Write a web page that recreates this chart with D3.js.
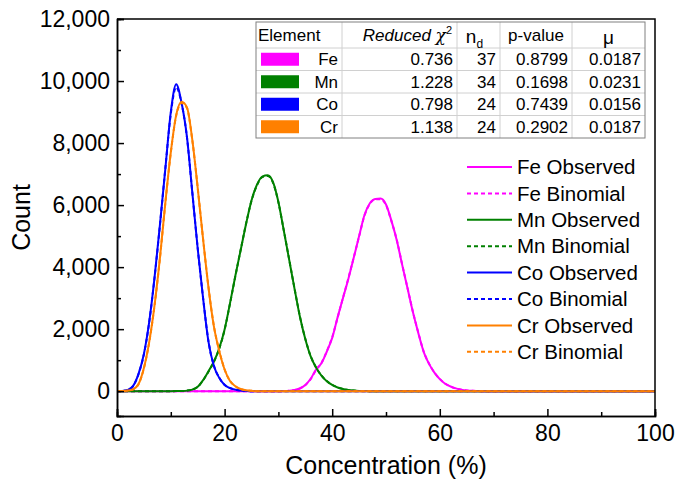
<!DOCTYPE html>
<html>
<head>
<meta charset="utf-8">
<script src="https://cdn.jsdelivr.net/npm/d3@7"></script>
<style>
  body { margin: 0; background: #fff; }
  svg { font-family: "Liberation Sans", Arial, sans-serif; }
</style>
</head>
<body>
<div id="chart"></div>
<script>
// Concentration (%) at integer steps, counts
const feStart = 30;
const feObserved = [0, 5, 15, 40, 87, 200, 400, 700, 900, 1280, 1720, 2380, 3000, 3620, 4300, 5000, 5680, 6060, 6200, 6210, 6020, 5500, 4870, 4080, 3320, 2550, 1880, 1270, 880, 600, 390, 240, 150, 90, 50, 25, 12, 5, 0];
const feBinomial = [0, 4, 14, 38, 90, 195, 390, 680, 910, 1290, 1740, 2370, 3010, 3640, 4310, 4990, 5660, 6040, 6190, 6190, 6000, 5490, 4880, 4090, 3330, 2560, 1890, 1280, 890, 600, 395, 245, 150, 88, 48, 24, 11, 4, 0];

const mnStart = 10;
const mnObserved = [0, 3, 8, 18, 50, 140, 355, 640, 950, 1380, 1990, 2830, 3720, 4560, 5400, 6150, 6650, 6920, 6960, 6740, 6100, 5180, 4240, 3300, 2400, 1680, 1120, 760, 500, 320, 200, 120, 70, 40, 20, 10, 5, 0];
const mnBinomial = [0, 2, 7, 17, 48, 135, 350, 630, 945, 1370, 1980, 2820, 3710, 4570, 5410, 6140, 6630, 6900, 6940, 6720, 6090, 5190, 4250, 3310, 2410, 1690, 1130, 765, 505, 325, 205, 122, 72, 41, 21, 10, 4, 0];

const coStart = 0;
const coObserved = [0, 10, 40, 170, 560, 1200, 2250, 3700, 5400, 7200, 9000, 9900, 9300, 8200, 6400, 4600, 3000, 1600, 820, 430, 200, 100, 50, 20, 8, 0];
const coBinomial = [0, 9, 38, 165, 550, 1190, 2240, 3690, 5390, 7210, 8950, 9800, 9280, 8190, 6410, 4610, 3010, 1610, 830, 435, 205, 102, 50, 20, 7, 0];

const crStart = 0;
const crObserved = [0, 5, 20, 60, 230, 750, 1600, 2800, 4330, 6100, 7700, 8900, 9330, 9150, 8100, 6550, 4900, 3350, 2100, 1300, 700, 330, 160, 70, 30, 12, 0];
const crBinomial = [0, 4, 18, 58, 225, 740, 1590, 2790, 4320, 6090, 7690, 8880, 9290, 9130, 8090, 6560, 4910, 3360, 2110, 1310, 705, 335, 162, 70, 29, 11, 0];

// fit table
const tableHeader = ["Element", "Reduced", "n", "p-value", "\u03bc"];
const elements = ["Fe", "Mn", "Co", "Cr"];
const reducedChi2 = ["0.736", "1.228", "0.798", "1.138"];
const nd = ["37", "34", "24", "24"];
const pValues = ["0.8799", "0.1698", "0.7439", "0.2902"];
const mu = ["0.0187", "0.0231", "0.0156", "0.0187"];

const colors = { Fe: "#ff00ff", Mn: "#008000", Co: "#0000ff", Cr: "#ff8000" };

const xTicks = [0, 20, 40, 60, 80, 100];
const yTicks = [0, 2000, 4000, 6000, 8000, 10000, 12000];

const width = 675, height = 481;
const margin = { top: 19, right: 20, bottom: 65, left: 117 };

const svg = d3.select("#chart").append("svg")
    .attr("width", width)
    .attr("height", height);

const x = d3.scaleLinear().domain([0, 100]).range([margin.left, width - margin.right]);
const y = d3.scaleLinear().domain([-800, 12000]).range([height - margin.bottom, margin.top]);

// pad a segment with zeros across the whole 0..100 range
function fullSeries(start, vals) {
    const pts = [];
    for (let c = 0; c <= 100; c++) {
        const i = c - start;
        pts.push([c, i >= 0 && i < vals.length ? vals[i] : 0]);
    }
    return pts;
}

const series = [
    { name: "Fe Observed", el: "Fe", dash: null, pts: fullSeries(feStart, feObserved) },
    { name: "Fe Binomial", el: "Fe", dash: "4,3", pts: fullSeries(feStart, feBinomial) },
    { name: "Mn Observed", el: "Mn", dash: null, pts: fullSeries(mnStart, mnObserved) },
    { name: "Mn Binomial", el: "Mn", dash: "4,3", pts: fullSeries(mnStart, mnBinomial) },
    { name: "Co Observed", el: "Co", dash: null, pts: fullSeries(coStart, coObserved) },
    { name: "Co Binomial", el: "Co", dash: "4,3", pts: fullSeries(coStart, coBinomial) },
    { name: "Cr Observed", el: "Cr", dash: null, pts: fullSeries(crStart, crObserved) },
    { name: "Cr Binomial", el: "Cr", dash: "4,3", pts: fullSeries(crStart, crBinomial) }
];

const line = d3.line()
    .x(d => x(d[0]))
    .y(d => y(d[1]))
    .curve(d3.curveMonotoneX);

svg.append("g")
    .selectAll("path")
    .data(series)
    .enter()
    .append("path")
    .attr("d", d => line(d.pts))
    .attr("fill", "none")
    .attr("stroke", d => colors[d.el])
    .attr("stroke-width", 2)
    .attr("stroke-dasharray", d => d.dash);

// axes, ticks pointing inward
svg.append("g")
    .attr("transform", `translate(0,${height - margin.bottom})`)
    .call(d3.axisBottom(x).tickValues(xTicks).tickSize(-7).tickPadding(9));
svg.append("g")
    .attr("transform", `translate(0,${height - margin.bottom})`)
    .call(d3.axisBottom(x).tickValues(d3.range(10, 100, 20)).tickSize(-4).tickFormat(""));

svg.append("g")
    .attr("transform", `translate(${margin.left},0)`)
    .call(d3.axisLeft(y).tickValues(yTicks).tickSize(-7).tickPadding(7).tickFormat(d3.format(",")));
svg.append("g")
    .attr("transform", `translate(${margin.left},0)`)
    .call(d3.axisLeft(y).tickValues(d3.range(1000, 12000, 2000)).tickSize(-4).tickFormat(""));

svg.selectAll(".domain").attr("stroke", "#000").attr("stroke-width", 1.5);
svg.selectAll(".tick line").attr("stroke", "#000").attr("stroke-width", 1.5);
svg.selectAll(".tick text").attr("font-size", 23).attr("fill", "#000")
    .attr("font-family", "Liberation Sans, Arial, sans-serif");

// top and right frame
svg.append("path")
    .attr("d", `M${x(0)},${y(12000)}H${x(100)}V${y(-800)}`)
    .attr("fill", "none")
    .attr("stroke", "#000")
    .attr("stroke-width", 1.5);

// axis titles
svg.append("text")
    .attr("x", (x(0) + x(100)) / 2)
    .attr("y", 474)
    .attr("text-anchor", "middle")
    .attr("font-size", 25)
    .text("Concentration (%)");

svg.append("text")
    .attr("transform", `translate(30,${(y(12000) + y(-800)) / 2}) rotate(-90)`)
    .attr("text-anchor", "middle")
    .attr("font-size", 25)
    .text("Count");

// legend
const legend = svg.append("g").attr("transform", "translate(467,167)");
const lg = legend.selectAll("g")
    .data(series)
    .enter()
    .append("g")
    .attr("transform", (d, i) => `translate(0,${i * 26.4})`);
lg.append("line")
    .attr("x1", 0).attr("x2", 45)
    .attr("stroke", d => colors[d.el])
    .attr("stroke-width", 2)
    .attr("stroke-dasharray", d => d.dash);
lg.append("text")
    .attr("x", 50)
    .attr("dy", "0.35em")
    .attr("font-size", 20.5)
    .text(d => d.name);

// table of fit results
const colX = [256, 342, 457, 500, 572, 645];
const tTop = 22, headH = 26, rowH = 22.5;
const tBottom = tTop + headH + rowH * elements.length;
const table = svg.append("g");
const tFont = 17;

table.append("rect")
    .attr("x", colX[0]).attr("y", tTop)
    .attr("width", colX[5] - colX[0]).attr("height", tBottom - tTop)
    .attr("fill", "#fff");

colX.slice(1, 5).forEach(cx => {
    table.append("line")
        .attr("x1", cx).attr("x2", cx).attr("y1", tTop).attr("y2", tBottom)
        .attr("stroke", "#d0d0d0");
});
elements.forEach((e, i) => {
    const ry = tTop + headH + rowH * i;
    table.append("line")
        .attr("x1", colX[0]).attr("x2", colX[5]).attr("y1", ry).attr("y2", ry)
        .attr("stroke", "#d0d0d0");
});
table.append("rect")
    .attr("x", colX[0]).attr("y", tTop)
    .attr("width", colX[5] - colX[0]).attr("height", tBottom - tTop)
    .attr("fill", "none")
    .attr("stroke", "#808080");

// header
const hy = tTop + headH / 2;
table.append("text").attr("x", colX[0] + 2).attr("y", hy).attr("dy", "0.35em")
    .attr("font-size", tFont).text(tableHeader[0]);
const chi = table.append("text").attr("x", colX[2] - 5).attr("y", hy).attr("dy", "0.35em")
    .attr("text-anchor", "end").attr("font-size", tFont);
chi.append("tspan").attr("font-style", "italic").text(tableHeader[1] + " ");
chi.append("tspan").attr("font-family", "DejaVu Serif, serif").attr("font-style", "italic").text("\u03c7");
chi.append("tspan").attr("font-size", 11).attr("dy", "-0.6em").text("2");
const nText = table.append("text").attr("x", (colX[2] + colX[3]) / 2 - 4).attr("y", hy + 1).attr("dy", "0.35em")
    .attr("text-anchor", "middle").attr("font-size", 19);
nText.append("tspan").text(tableHeader[2]);
nText.append("tspan").attr("font-size", 12).attr("dy", "0.45em").text("d");
table.append("text").attr("x", (colX[3] + colX[4]) / 2).attr("y", hy).attr("dy", "0.35em")
    .attr("text-anchor", "middle").attr("font-size", tFont).text(tableHeader[3]);
table.append("text").attr("x", (colX[4] + colX[5]) / 2).attr("y", hy + 2).attr("dy", "0.35em")
    .attr("text-anchor", "middle").attr("font-size", 19).text(tableHeader[4]);

// rows
elements.forEach((e, i) => {
    const cy = tTop + headH + rowH * i + rowH / 2;
    table.append("rect")
        .attr("x", colX[0] + 5).attr("y", cy - 6.5)
        .attr("width", 38).attr("height", 13)
        .attr("fill", colors[e]);
    const cells = [e, reducedChi2[i], nd[i], pValues[i], mu[i]];
    cells.forEach((t, j) => {
        table.append("text")
            .attr("x", colX[j + 1] - 4)
            .attr("y", cy)
            .attr("dy", "0.35em")
            .attr("text-anchor", "end")
            .attr("font-size", tFont)
            .text(t);
    });
});
</script>
</body>
</html>
